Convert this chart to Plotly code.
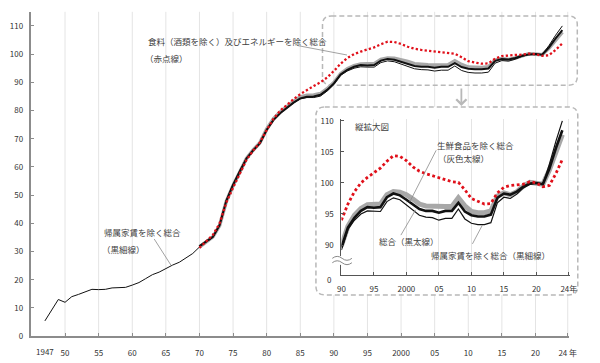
import plotly.graph_objects as go

W, H = 600, 363
FONT = "Noto Sans CJK JP"

# ---------------- data (2020 = 100) ----------------
years_rent = list(range(1947, 2025))
years = list(range(1970, 2025))

# 総合（黒太線） 1970-2024
total = [31.9, 33.6, 35.2, 39.4, 48.0, 53.6, 58.6, 63.0, 65.9, 68.4,
         73.1, 76.6, 79.0, 81.0, 82.8, 84.3, 84.9, 85.0, 85.6, 87.3,
         89.6, 92.8, 94.4, 95.5, 96.1, 96.0, 96.1, 97.7, 98.3, 98.0,
         97.3, 96.6, 95.8, 95.5, 95.5, 95.2, 95.5, 95.5, 96.8, 95.4,
         94.8, 94.6, 94.6, 94.9, 97.6, 98.3, 98.1, 98.6, 99.4, 99.9,
         100.0, 99.8, 102.3, 105.6, 108.5]

# 生鮮食品を除く総合（灰色太線） 1970-2024
core = [31.6, 33.4, 35.2, 39.2, 47.8, 53.4, 58.5, 63.0, 66.0, 68.6,
        73.4, 77.0, 79.4, 81.4, 83.2, 84.8, 85.4, 85.5, 86.0, 87.7,
        89.9, 93.0, 94.8, 95.9, 96.5, 96.6, 96.6, 98.1, 98.6, 98.5,
        98.1, 97.4, 96.6, 96.3, 96.2, 96.1, 96.2, 96.2, 97.6, 96.3,
        95.4, 95.2, 95.2, 95.5, 97.9, 98.4, 98.1, 98.6, 99.5, 100.1,
        100.0, 99.8, 102.1, 105.2, 107.8]

# 帰属家賃を除く総合（黒細線） 1947-2024
excl_rent = [5.4, 9.4, 13.0, 12.0, 14.0, 14.8, 15.8, 16.6, 16.5, 16.6,
             17.1, 17.1, 17.3, 18.1, 19.0, 20.4, 21.8, 22.7, 24.1, 25.2,
             26.2, 27.6, 29.3,
             31.6, 33.4, 35.0, 39.3, 48.2, 53.8, 58.8, 63.1, 65.9, 68.4,
             73.3, 76.8, 79.1, 81.0, 82.7, 84.1, 84.6, 84.6, 85.1, 86.9,
             89.2, 92.5, 94.0, 95.0, 95.5, 95.4, 95.4, 97.0, 97.6, 97.3,
             96.5, 95.7, 94.8, 94.5, 94.4, 94.0, 94.3, 94.3, 95.8, 94.2,
             93.5, 93.3, 93.3, 93.6, 96.8, 97.7, 97.5, 98.2, 99.2, 99.8,
             100.0, 99.8, 103.0, 106.7, 110.0]

# 食料（酒類を除く）及びエネルギーを除く総合（赤点線） 1970-2024
core_core = [31.3, 33.6, 35.9, 40.0, 47.4, 52.6, 57.8, 62.5, 65.8, 68.7,
             73.0, 77.0, 79.9, 82.1, 84.0, 85.8, 87.4, 88.7, 90.0, 91.7,
             94.0, 96.6, 98.6, 100.0, 100.9, 101.6, 102.4, 103.5, 104.4, 104.3,
             103.6, 102.6, 101.9, 101.5, 101.2, 100.8, 100.5, 100.2, 100.1, 98.9,
             97.5, 97.0, 96.6, 96.7, 98.4, 99.3, 99.6, 99.7, 99.8, 100.2,
             100.0, 99.4, 99.6, 101.5, 103.8]

main_tickvals = [1950, 1955, 1960, 1965, 1970, 1975, 1980, 1985, 1990, 1995,
                 2000, 2005, 2010, 2015, 2020, 2024.8]
main_ticktext = ["50", "55", "60", "65", "70", "75", "80", "85", "90", "95",
                 "2000", "05", "10", "15", "20", "24 年"]
main_yticks = [0, 10, 20, 30, 40, 50, 60, 70, 80, 90, 100, 110]

inset_tickvals = [1990, 1995, 2000, 2005, 2010, 2015, 2020, 2025.0]
inset_ticktext = ["90", "95", "2000", "05", "10", "15", "20", "24年"]
inset_yticks = [90, 95, 100, 105, 110]

# ---------------- helpers ----------------
def px(x):
    return x / W

def py(y):
    return 1 - y / H

MX0, MX1 = 28.0, 576.6     # main x domain (px)
MYT, MYB = 8.0, 340.6      # main y domain (px)
XR0, XR1 = 1945.0, 2025.0  # main x range

def year_px(t):
    return MX0 + (t - XR0) * (MX1 - MX0) / (XR1 - XR0)

def rounded_path(x0, y0, x1, y1, r):
    pts = [
        ("M", [(x0 + r, y0)]), ("L", [(x1 - r, y0)]), ("Q", [(x1, y0), (x1, y0 + r)]),
        ("L", [(x1, y1 - r)]), ("Q", [(x1, y1), (x1 - r, y1)]),
        ("L", [(x0 + r, y1)]), ("Q", [(x0, y1), (x0, y1 - r)]),
        ("L", [(x0, y0 + r)]), ("Q", [(x0, y0), (x0 + r, y0)]),
    ]
    s = ""
    for cmd, ps in pts:
        s += cmd + " " + " ".join(f"{px(a):.5f},{py(b):.5f}" for a, b in ps) + " "
    return s + "Z"

# ---------------- traces ----------------
fig = go.Figure()

i90 = years.index(1990)
j90 = years_rent.index(1990)

# main chart
fig.add_trace(go.Scatter(x=years, y=core, mode="lines", line=dict(color="#a8a8a8", width=3.6),
                         xaxis="x", yaxis="y", showlegend=False, hoverinfo="skip"))
fig.add_trace(go.Scatter(x=years, y=total, mode="lines", line=dict(color="#111111", width=2.0),
                         xaxis="x", yaxis="y", showlegend=False, hoverinfo="skip"))
fig.add_trace(go.Scatter(x=years_rent, y=excl_rent, mode="lines", line=dict(color="#111111", width=1.0),
                         xaxis="x", yaxis="y", showlegend=False, hoverinfo="skip"))
fig.add_trace(go.Scatter(x=years, y=core_core, mode="lines",
                         line=dict(color="#e0101a", width=2.3, dash="2.3px,2.2px"),
                         xaxis="x", yaxis="y", showlegend=False, hoverinfo="skip"))

# inset
fig.add_trace(go.Scatter(x=years[i90:], y=core[i90:], mode="lines", line=dict(color="#a8a8a8", width=5),
                         xaxis="x2", yaxis="y2", showlegend=False, hoverinfo="skip"))
fig.add_trace(go.Scatter(x=years[i90:], y=total[i90:], mode="lines", line=dict(color="#111111", width=2.6),
                         xaxis="x2", yaxis="y2", showlegend=False, hoverinfo="skip"))
fig.add_trace(go.Scatter(x=years_rent[j90:], y=excl_rent[j90:], mode="lines", line=dict(color="#111111", width=1.2),
                         xaxis="x2", yaxis="y2", showlegend=False, hoverinfo="skip"))
fig.add_trace(go.Scatter(x=years[i90:], y=core_core[i90:], mode="lines",
                         line=dict(color="#e0101a", width=2.8, dash="2.8px,2.6px"),
                         xaxis="x2", yaxis="y2", showlegend=False, hoverinfo="skip"))

tickfont = dict(family=FONT, size=8, color="#333333")

fig.update_layout(
    width=W, height=H,
    margin=dict(l=0, r=0, t=0, b=0),
    paper_bgcolor="white", plot_bgcolor="white",
    font=dict(family=FONT),
    xaxis=dict(domain=[px(MX0), px(MX1)], range=[XR0, XR1], anchor="y",
               tickmode="array", tickvals=main_tickvals, ticktext=main_ticktext,
               ticks="inside", ticklen=3, tickcolor="#8c8c8c", tickwidth=1,
               showline=True, linecolor="#8c8c8c", linewidth=1.5,
               showgrid=False, zeroline=False,
               tickfont=tickfont, ticklabelstandoff=8, fixedrange=True),
    yaxis=dict(domain=[py(MYB), py(MYT)], range=[0, 115], anchor="x",
               tickmode="array", tickvals=main_yticks,
               ticks="inside", ticklen=3, tickcolor="#8c8c8c", tickwidth=1,
               showline=True, linecolor="#8c8c8c", linewidth=1.5,
               showgrid=False, zeroline=False,
               tickfont=tickfont, ticklabelstandoff=5, fixedrange=True),
    xaxis2=dict(domain=[px(344.3), px(577.7)], range=[1990, 2025.2], anchor="y2",
                tickmode="array", tickvals=inset_tickvals, ticktext=inset_ticktext,
                ticks="inside", ticklen=3, tickcolor="#555555", tickwidth=1,
                showline=True, linecolor="#555555", linewidth=1,
                showgrid=True, gridcolor="#e4e4e4", gridwidth=1, zeroline=False,
                tickfont=tickfont, ticklabelstandoff=6, fixedrange=True),
    yaxis2=dict(domain=[py(278.3), py(118)], range=[85.1, 110.3], anchor="x2",
                tickmode="array", tickvals=inset_yticks,
                ticks="inside", ticklen=3, tickcolor="#555555", tickwidth=1,
                showline=True, linecolor="#555555", linewidth=1,
                showgrid=False, zeroline=False,
                tickfont=tickfont, ticklabelstandoff=5, fixedrange=True),
)

# inset frame and highlight frame (px)
IB = (318.3, 105.7, 585.5, 298.3)
TB = (325.0, 12.3, 585.0, 83.3)

shapes = []
# main vertical gridlines, interrupted where the inset frame sits
grid = dict(color="#e4e4e4", width=1)
for t in main_tickvals:
    xp = year_px(t)
    if IB[0] <= xp <= IB[2]:
        segs = [(MYB, IB[3]), (IB[1], MYT)]
    else:
        segs = [(MYB, MYT)]
    for yb, yt in segs:
        shapes.append(dict(type="line", xref="x", yref="paper", layer="below",
                           x0=t, x1=t, y0=py(yb), y1=py(yt), line=grid))

box_line = dict(color="#b8b8b8", width=1.5, dash="5px,3px")
shapes.append(dict(type="path", xref="paper", yref="paper", layer="below",
                   path=rounded_path(*IB, 9), fillcolor="white", line=box_line))
shapes.append(dict(type="path", xref="paper", yref="paper", layer="below",
                   path=rounded_path(*TB, 9), fillcolor="rgba(0,0,0,0)", line=box_line))

leader = dict(color="#8a8a8a", width=0.8)
for (x0, y0, x1, y1) in [(300, 42.7, 350, 52.3), (153.3, 241, 170.5, 268),
                         (441, 150, 414, 203), (405, 237, 420, 211), (478, 246, 488, 227)]:
    shapes.append(dict(type="line", xref="paper", yref="paper", layer="above",
                       x0=px(x0), y0=py(y0), x1=px(x1), y1=py(y1), line=leader))

# axis break mark on the inset y-axis
shapes.append(dict(type="rect", xref="paper", yref="paper", layer="above",
                   x0=px(341.5), x1=px(347.5), y0=py(267.5), y1=py(258.5),
                   fillcolor="white", line=dict(width=0)))
for yc in (260.8, 265.3):
    pth = (f"M {px(335):.5f},{py(yc):.5f} Q {px(340):.5f},{py(yc-4):.5f} {px(345):.5f},{py(yc):.5f} "
           f"T {px(355):.5f},{py(yc):.5f}")
    shapes.append(dict(type="path", xref="paper", yref="paper", layer="above",
                       path=pth, line=dict(color="#888888", width=1)))
fig.update_layout(shapes=shapes)

lab = dict(family=FONT, size=8.5, color="#404040")
annos = [
    ("食料（酒類を除く）及びエネルギーを除く総合", 144.5, 38.3),
    ("（赤点線）", 142.0, 55.0),
    ("帰属家賃を除く総合", 99.5, 233.3),
    ("（黒細線）", 97.5, 251.7),
    ("縦拡大図", 356.0, 125.0),
    ("生鮮食品を除く総合", 439.5, 144.3),
    ("（灰色太線）", 440.5, 158.3),
    ("総合（黒太線）", 380.5, 242.7),
    ("帰属家賃を除く総合（黒細線）", 434.0, 257.3),
]
annotations = []
for t, x, y in annos:
    annotations.append(dict(text=t, x=px(x), y=py(y), xref="paper", yref="paper",
                            xanchor="left", yanchor="middle", showarrow=False, font=lab))
# extra axis labels
annotations.append(dict(text="1947", x=1947, y=py(356.5), xref="x", yref="paper",
                        xanchor="center", yanchor="middle", showarrow=False, font=tickfont))
annotations.append(dict(text="0", x=px(336.8), y=py(283), xref="paper", yref="paper",
                        xanchor="right", yanchor="middle", showarrow=False, font=tickfont))
# arrow from highlight frame to inset
annotations.append(dict(text="", x=px(466.7), y=py(104.5), xref="paper", yref="paper",
                        ax=0, ay=-19, showarrow=True, arrowhead=4, arrowsize=1.1,
                        arrowwidth=1.8, arrowcolor="#b8b8b8"))
fig.update_layout(annotations=annotations)

fig.write_html("out.html", config={"displayModeBar": False},
               post_script="document.body.style.margin='0';")
